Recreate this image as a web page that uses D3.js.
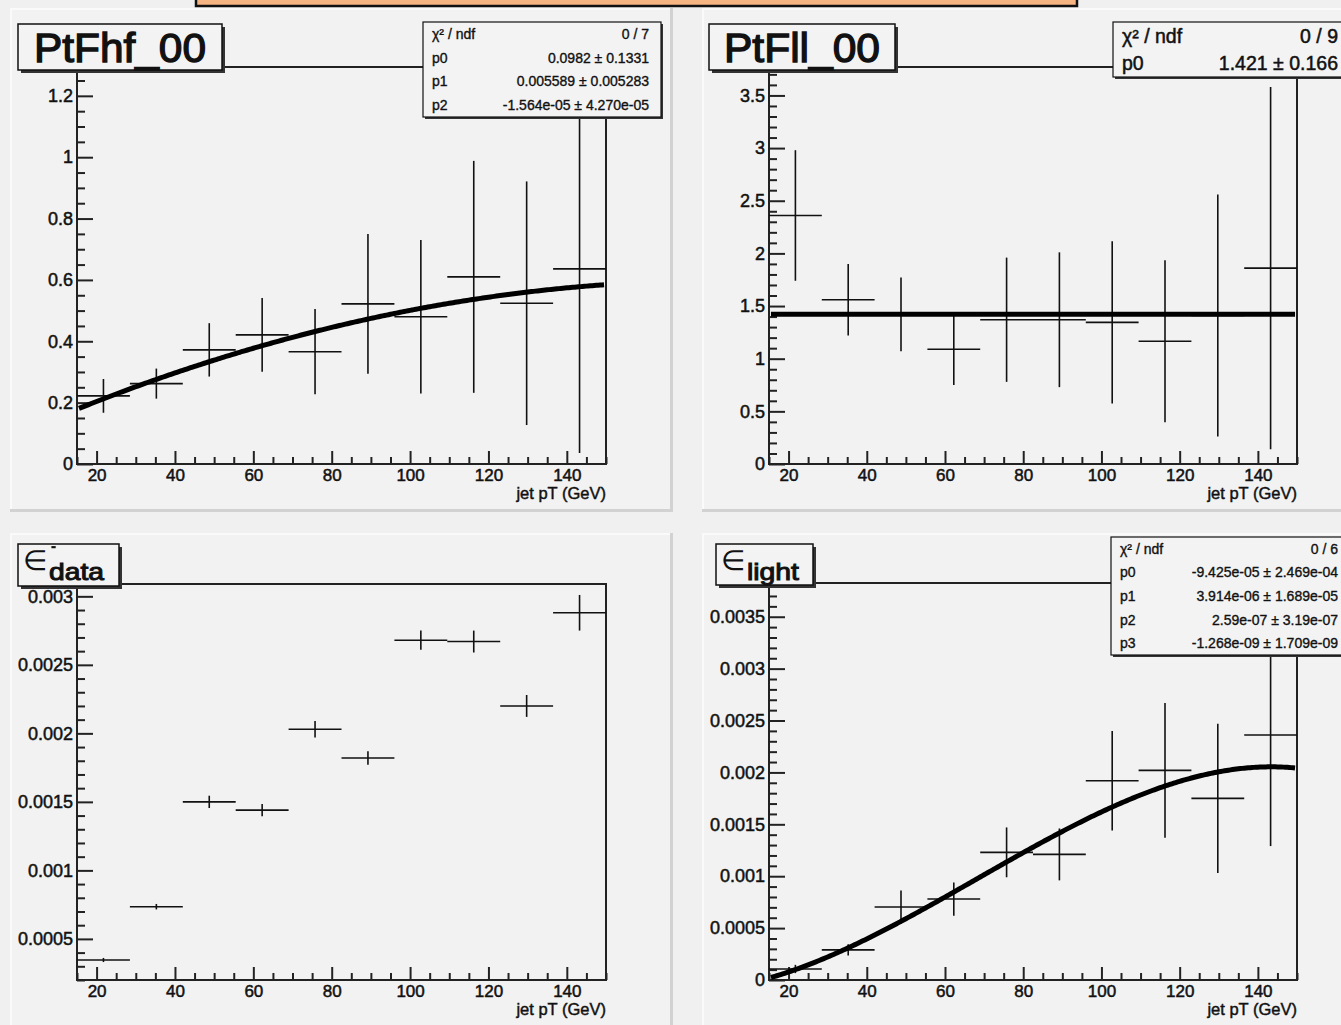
<!DOCTYPE html>
<html>
<head>
<meta charset="utf-8">
<script src="https://cdn.jsdelivr.net/npm/d3@7"></script>
<style>
  body { margin: 0; background: #f0f0f0; }
  svg { display: block; font-family: "Liberation Sans", Arial, Helvetica, sans-serif; }
  .stat { white-space: pre; }
</style>
</head>
<body>
<svg id="canvas" width="1341" height="1025"></svg>
<script>
// ---- data: bin centres in jet pT (GeV) and half bin width ----
const binCentres = [21.75, 35.25, 48.75, 62.25, 75.75, 89.25, 102.75, 116.25, 129.75, 143.25];
const binHalfWidth = 6.75;
const xTickValues = [20, 40, 60, 80, 100, 120, 140];

// heavy-flavour fraction
const fhfValues = [0.222, 0.262, 0.372, 0.421, 0.366, 0.522, 0.480, 0.610, 0.524, 0.636];
const fhfErrors = [0.055, 0.049, 0.087, 0.120, 0.139, 0.228, 0.250, 0.378, 0.397, 0.600];
const fhfFitParams = [0.0982, 0.005589, -1.564e-05];
const fhfTicks = [0, 0.2, 0.4, 0.6, 0.8, 1, 1.2];

// light fraction
const fllValues = [2.36, 1.56, 1.42, 1.09, 1.37, 1.37, 1.345, 1.166, 1.41, 1.86];
const fllErrors = [0.62, 0.34, 0.35, 0.34, 0.59, 0.64, 0.77, 0.77, 1.15, 1.72];
const fllFitParams = [1.421];
const fllTicks = [0, 0.5, 1, 1.5, 2, 2.5, 3, 3.5];

// tagging efficiency in data
const effDataValues = [0.000346, 0.000735, 0.00150, 0.00144, 0.00203, 0.00182, 0.00268, 0.00267, 0.00220, 0.00288];
const effDataErrors = [0.000015, 0.000020, 0.000045, 0.000045, 0.000060, 0.000050, 0.000070, 0.000080, 0.000080, 0.000130];
const effDataTicks = [0.0005, 0.001, 0.0015, 0.002, 0.0025, 0.003];

// light mistag efficiency
const effLightValues = [0.000106, 0.000290, 0.000703, 0.000780, 0.00123, 0.00121, 0.00192, 0.00202, 0.00175, 0.00236];
const effLightErrors = [0.000040, 0.000055, 0.000160, 0.000160, 0.000240, 0.000250, 0.000480, 0.000650, 0.000720, 0.001070];
const effLightFitParams = [-9.425e-05, 3.914e-06, 2.59e-07, -1.268e-09];
const effLightTicks = [0, 0.0005, 0.001, 0.0015, 0.002, 0.0025, 0.003, 0.0035];

// fit summaries
const fhfStats = [["\u03c7\u00b2 / ndf", "0 / 7"], ["p0", "0.0982 \u00b1 0.1331"], ["p1", "0.005589 \u00b1 0.005283"], ["p2", "-1.564e-05 \u00b1 4.270e-05"]];
const fllStats = [["\u03c7\u00b2 / ndf", "0 / 9"], ["p0", "1.421 \u00b1 0.166"]];
const effLightStats = [["\u03c7\u00b2 / ndf", "0 / 6"], ["p0", "-9.425e-05 \u00b1 2.469e-04"], ["p1", "3.914e-06 \u00b1 1.689e-05"], ["p2", "2.59e-07 \u00b1 3.19e-07"], ["p3", "-1.268e-09 \u00b1 1.709e-09"]];

const xDomain = [15, 150];
const svg = d3.select("#canvas");
const INK = "#111";

// top banner (cut by the canvas edge)
svg.append("rect").attr("x", 196).attr("y", -8).attr("width", 881).attr("height", 14)
  .attr("fill", "#f6b582").attr("stroke", INK).attr("stroke-width", 2.5);

function poly(params) {
  return x => params.reduce((s, p, i) => s + p * Math.pow(x, i), 0);
}

function fmtTick(v) { return String(+v.toPrecision(6)); }

// slightly heavier strokes for text, as the plotting package renders it
function heavy(sel, w) {
  return sel.attr("stroke", INK).attr("stroke-width", w).attr("paint-order", "stroke");
}

function drawPanel(cfg, idx) {
  const g = svg.append("g");
  const [px, py, pw, ph] = cfg.pad;
  // pad with bevelled edges
  g.append("rect").attr("x", px).attr("y", py).attr("width", pw).attr("height", ph).attr("fill", "#f2f2f2");
  g.append("path").attr("d", `M${px + 1},${py + ph} V${py + 1} H${px + pw}`).attr("fill", "none").attr("stroke", "#fafafa").attr("stroke-width", 2);
  g.append("path").attr("d", `M${px},${py + ph - 1.5} H${px + pw - 1.5} V${py}`).attr("fill", "none").attr("stroke", "#d2d2d2").attr("stroke-width", 3);

  const f = cfg.frame;
  const x = d3.scaleLinear().domain(xDomain).range([f.x0, f.x1]);
  const y = d3.scaleLinear().domain(cfg.yDomain).range([f.y1, f.y0]);

  const clipId = "clip" + idx;
  g.append("clipPath").attr("id", clipId).append("rect")
    .attr("x", f.x0).attr("y", f.y0).attr("width", f.x1 - f.x0).attr("height", f.y1 - f.y0);

  // frame
  g.append("rect").attr("x", f.x0).attr("y", f.y0).attr("width", f.x1 - f.x0).attr("height", f.y1 - f.y0)
    .attr("fill", "none").attr("stroke", "#222").attr("stroke-width", 2);

  // x axis: major and minor ticks pointing into the frame
  const xMinor = d3.range(15, 151, 5).filter(v => !xTickValues.includes(v));
  g.append("g").attr("transform", `translate(0,${f.y1})`)
    .call(d3.axisBottom(x).tickValues(xMinor).tickSize(-7).tickFormat(""))
    .call(a => a.select(".domain").remove());
  const xa = g.append("g").attr("transform", `translate(0,${f.y1})`)
    .call(d3.axisBottom(x).tickValues(xTickValues).tickSize(-13).tickPadding(5).tickFormat(d3.format("d")));
  xa.select(".domain").remove();
  heavy(xa.selectAll("text").attr("font-size", 17).attr("fill", INK).attr("font-family", "Liberation Sans, Arial, sans-serif")
    .attr("dy", "0.8em").attr("y", 3), 0.5);

  // y axis
  const yMinor = d3.range(cfg.yDomain[0] - 1e-12, cfg.yDomain[1], cfg.yMinorStep)
    .map(v => Math.round(v / cfg.yMinorStep) * cfg.yMinorStep)
    .filter(v => v >= cfg.yDomain[0] - 1e-12 && v <= cfg.yDomain[1] && !cfg.yTicks.some(t => Math.abs(t - v) < cfg.yMinorStep / 10));
  g.append("g").attr("transform", `translate(${f.x0},0)`)
    .call(d3.axisLeft(y).tickValues(yMinor).tickSize(-8).tickFormat(""))
    .call(a => a.select(".domain").remove());
  const ya = g.append("g").attr("transform", `translate(${f.x0},0)`)
    .call(d3.axisLeft(y).tickValues(cfg.yTicks).tickSize(-16).tickPadding(4).tickFormat(fmtTick));
  ya.select(".domain").remove();
  heavy(ya.selectAll("text").attr("font-size", 18).attr("fill", INK).attr("font-family", "Liberation Sans, Arial, sans-serif"), 0.5);
  g.selectAll(".tick line").attr("stroke", "#222").attr("stroke-width", 2);

  // axis title
  heavy(g.append("text").attr("x", f.x1).attr("y", f.y1 + 35).attr("text-anchor", "end")
    .attr("font-size", 16.5).attr("fill", INK).text("jet pT (GeV)"), 0.45);

  // data points with error bars
  const pts = g.append("g").attr("clip-path", `url(#${clipId})`);
  const data = binCentres.map((c, i) => ({ c, v: cfg.values[i], e: cfg.errors[i] }));
  pts.selectAll("line.h").data(data).join("line").attr("class", "h")
    .attr("x1", d => x(d.c - binHalfWidth)).attr("x2", d => x(d.c + binHalfWidth))
    .attr("y1", d => y(d.v)).attr("y2", d => y(d.v))
    .attr("stroke", INK).attr("stroke-width", 1.6);
  pts.selectAll("line.v").data(data).join("line").attr("class", "v")
    .attr("x1", d => x(d.c)).attr("x2", d => x(d.c))
    .attr("y1", d => y(d.v - d.e)).attr("y2", d => y(d.v + d.e))
    .attr("stroke", INK).attr("stroke-width", 1.6);

  // fitted function
  if (cfg.fit) {
    const fn = poly(cfg.fit);
    const xs = d3.range(15.5, 149.6, 0.5);
    pts.append("path").datum(xs)
      .attr("d", d3.line().x(v => x(v)).y(v => y(fn(v))))
      .attr("fill", "none").attr("stroke", "#000").attr("stroke-width", 5);
  }

  // title box
  const t = cfg.titleBox;
  g.append("rect").attr("x", t.x + 3).attr("y", t.y + 3).attr("width", t.w).attr("height", t.h).attr("fill", "#333");
  g.append("rect").attr("x", t.x).attr("y", t.y).attr("width", t.w).attr("height", t.h)
    .attr("fill", "#f3f3f3").attr("stroke", INK).attr("stroke-width", 1.5);
  cfg.drawTitle(g, t);

  // fit statistics box
  if (cfg.stats) {
    const s = cfg.statBox;
    g.append("rect").attr("x", s.x + 2).attr("y", s.y + 2).attr("width", s.w).attr("height", s.h).attr("fill", "#333");
    g.append("rect").attr("x", s.x).attr("y", s.y).attr("width", s.w).attr("height", s.h)
      .attr("fill", "#f3f3f3").attr("stroke", INK).attr("stroke-width", 1.2);
    const rowH = s.h / cfg.stats.length;
    cfg.stats.forEach((r, i) => {
      const by = s.y + rowH * (i + 0.5) + s.fs * 0.36;
      heavy(g.append("text").attr("x", s.x + s.padL).attr("y", by).attr("font-size", s.fs).attr("fill", INK)
        .text(r[0]), s.sw);
      heavy(g.append("text").attr("class", "stat").attr("x", s.x + s.w - s.padR).attr("y", by).attr("text-anchor", "end")
        .attr("font-size", s.fs).attr("fill", INK).text(r[1]), s.sw);
    });
  }
}

function plainTitle(label, len) {
  return (g, t) => {
    heavy(g.append("text").attr("x", t.x + t.w / 2).attr("y", t.y + t.h - 8).attr("text-anchor", "middle")
      .attr("font-size", 40).attr("fill", INK)
      .attr("textLength", len).attr("lengthAdjust", "spacingAndGlyphs").text(label), 1.3);
  };
}

function epsTitle(sup, sub, subLen) {
  return (g, t) => {
    g.append("text").attr("x", t.x + 5).attr("y", t.y + 26).attr("font-size", 28).attr("fill", INK).text("\u2208");
    if (sup) {
      heavy(g.append("text").attr("x", t.x + 33).attr("y", t.y + 7).attr("font-size", 15)
        .attr("font-weight", "bold").attr("fill", INK).text(sup), 0.4);
    }
    heavy(g.append("text").attr("x", t.x + 31).attr("y", t.y + 36).attr("font-size", 24).attr("fill", INK)
      .attr("textLength", subLen).attr("lengthAdjust", "spacingAndGlyphs").text(sub), 1.0);
  };
}

const panels = [
  {
    pad: [10, 8, 663, 504], frame: { x0: 77, x1: 606, y0: 67, y1: 464 },
    yDomain: [0, 1.294], yTicks: fhfTicks, yMinorStep: 0.05,
    values: fhfValues, errors: fhfErrors, fit: fhfFitParams,
    titleBox: { x: 18, y: 24, w: 204, h: 46 }, drawTitle: plainTitle("PtFhf_00", 172),
    stats: fhfStats, statBox: { x: 423, y: 22, w: 238, h: 95, fs: 14, sw: 0.35, padL: 9, padR: 12 }
  },
  {
    pad: [702, 8, 645, 504], frame: { x0: 769, x1: 1297, y0: 67, y1: 464 },
    yDomain: [0, 3.77], yTicks: fllTicks, yMinorStep: 0.1,
    values: fllValues, errors: fllErrors, fit: fllFitParams,
    titleBox: { x: 709, y: 24, w: 186, h: 46 }, drawTitle: plainTitle("PtFll_00", 156),
    stats: fllStats, statBox: { x: 1113, y: 22, w: 240, h: 55, fs: 19.5, sw: 0.5, padL: 9, padR: 15 }
  },
  {
    pad: [10, 533, 663, 500], frame: { x0: 77, x1: 606, y0: 584, y1: 980 },
    yDomain: [0.0002, 0.00309], yTicks: effDataTicks, yMinorStep: 0.0001,
    values: effDataValues, errors: effDataErrors, fit: null,
    titleBox: { x: 18, y: 544, w: 101, h: 42 }, drawTitle: epsTitle("-", "data", 55),
    stats: null
  },
  {
    pad: [702, 533, 645, 500], frame: { x0: 769, x1: 1297, y0: 583, y1: 980 },
    yDomain: [0, 0.003825], yTicks: effLightTicks, yMinorStep: 0.0001,
    values: effLightValues, errors: effLightErrors, fit: effLightFitParams,
    titleBox: { x: 716, y: 544, w: 97, h: 41 }, drawTitle: epsTitle(null, "light", 52),
    stats: effLightStats, statBox: { x: 1111, y: 537, w: 240, h: 118, fs: 14, sw: 0.35, padL: 9, padR: 13 }
  }
];

panels.forEach(drawPanel);
</script>
</body>
</html>
